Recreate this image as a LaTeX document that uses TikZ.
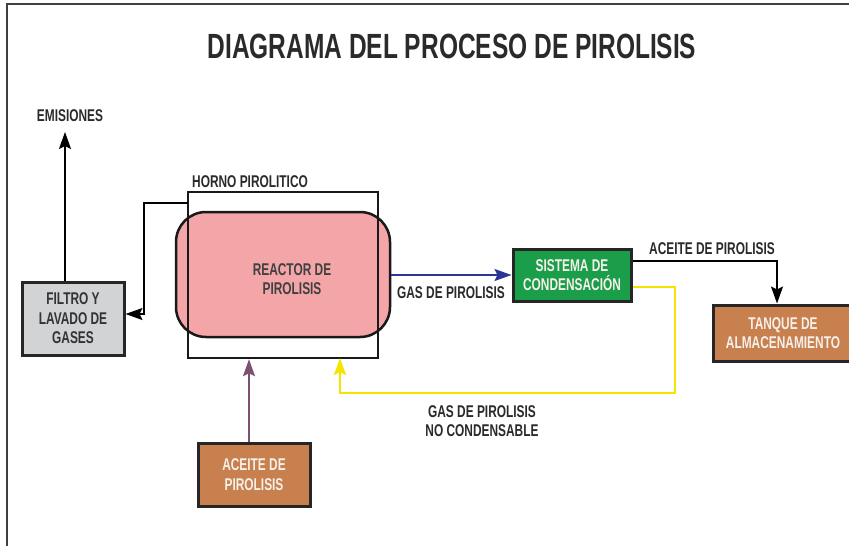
\documentclass[tikz,border=0pt]{standalone}
\usepackage{fontspec}
\setmainfont{Liberation Sans}[FakeStretch=0.70]
\usetikzlibrary{arrows.meta}
\definecolor{txt}{HTML}{2A2A2A}
\definecolor{pinkfill}{HTML}{F4A5A7}
\definecolor{grayfill}{HTML}{D2D3D5}
\definecolor{greenfill}{HTML}{1A9E4A}
\definecolor{brownfill}{HTML}{C8804F}
\definecolor{bluearrow}{HTML}{2B3594}
\definecolor{purplearrow}{HTML}{7B5070}
\definecolor{yellowline}{HTML}{F5E400}
\definecolor{whitetxt}{HTML}{F6F0EA}
\tikzset{
  lbl/.style={font=\bfseries\fontsize{17}{19.5}\selectfont, text=txt, inner sep=0pt, align=center},
  boxnode/.style={draw=black!85, line width=3pt, minimum width=#1, inner sep=0pt, align=center,
     font=\bfseries\fontsize{17}{19.5}\selectfont},
  flow/.style={line width=2pt, -{Stealth[length=17pt,width=12pt,inset=3pt]}},
}
\begin{document}
\begin{tikzpicture}[x=1pt,y=-1pt]
\useasboundingbox (0,0) rectangle (849,546);
% frame
\draw[line width=1.5pt, black!75] (7,546) -- (7,4) -- (849,4);
% title
\node[font=\bfseries\fontsize{35}{40}\selectfont, text=txt, inner sep=0pt] (title) at (452,46.5) {DIAGRAMA DEL PROCESO DE PIROLISIS};
% reactor and horno
\node[draw=black!90, line width=2.5pt, fill=pinkfill, rounded corners=30pt, minimum width=214pt, minimum height=125pt, inner sep=0pt,
      label={[lbl, text=black!75, xshift=9pt, yshift=-4.5pt]center:REACTOR DE\\PIROLISIS}] (reactor) at (283,274.5) {};
\node[draw=black!90, line width=2.5pt, minimum width=190pt, minimum height=166pt, inner sep=0pt] (horno) at (283,275) {};
\node[lbl, anchor=west] (hornolbl) at (192,182) {HORNO PIROLITICO};
% boxes
\node[boxnode=102pt, minimum height=73pt, fill=grayfill, text=black!80] (filtro) at (73,318.5) {FILTRO Y\\LAVADO DE\\GASES};
\node[boxnode=118pt, minimum height=52pt, fill=greenfill, text=whitetxt] (sistema) at (572,275) {SISTEMA DE\\CONDENSACIÓN};
\node[boxnode=140pt, minimum height=56pt, fill=brownfill, text=whitetxt] (tanque) at (783,333) {TANQUE DE\\ALMACENAMIENTO};
\node[boxnode=112pt, minimum height=63pt, fill=brownfill, text=whitetxt] (aceite) at (254,474.5) {ACEITE DE\\PIROLISIS};
% labels
\node[lbl] (emis) at (70,116) {EMISIONES};
\node[lbl] (gaslbl) at (451,293) {GAS DE PIROLISIS};
\node[lbl] (aceitelbl) at (712,248.5) {ACEITE DE PIROLISIS};
\node[lbl] (nclbl) at (482,421) {GAS DE PIROLISIS\\NO CONDENSABLE};
% coordinates
\coordinate (emtop) at (65,132);
\coordinate (hl) at (188,203);
\coordinate (yret) at (340,358);
% connectors
\draw[flow, black] (filtro.north -| emtop) -- (emtop);
\draw[flow, black] (hl) -- (144,203) -- (144,314) -- (filtro.east |- 0,314);
\draw[flow, bluearrow] (reactor.east |- 0,275) -- (sistema.west |- 0,275);
\draw[flow, black] (sistema.east |- 0,261) -- (777,261) -- (tanque.north -| 777,0);
\draw[flow, yellowline, line width=2.5pt] (sistema.east |- 0,287) -- (675,287) -- (675,393) -- (340,393) -- (yret);
\draw[flow, purplearrow] (aceite.north -| 249,0) -- (horno.south -| 249,0);
\end{tikzpicture}
\end{document}
